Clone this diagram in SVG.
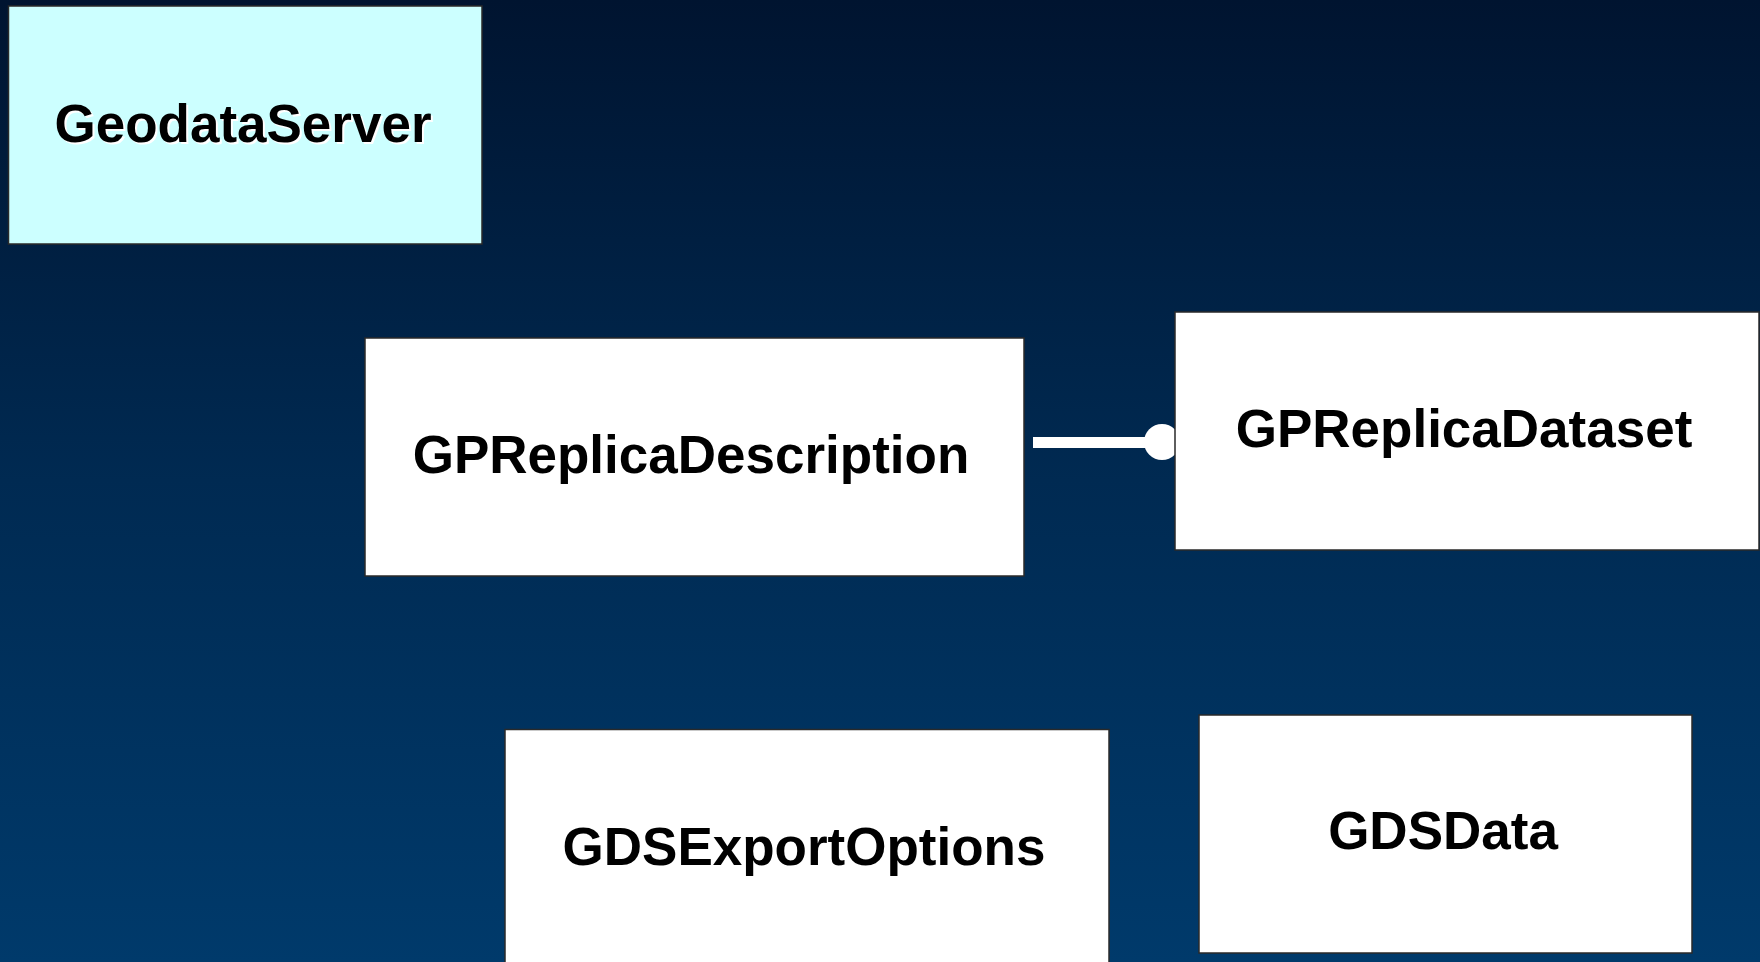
<svg xmlns="http://www.w3.org/2000/svg" width="1760" height="962" viewBox="0 0 1760 962">
  <defs>
    <linearGradient id="bg" x1="0" y1="0" x2="0" y2="1">
      <stop offset="0" stop-color="#001430"/>
      <stop offset="0.5" stop-color="#002a52"/>
      <stop offset="1" stop-color="#003a6b"/>
    </linearGradient>
  </defs>
  <style>
    .box { fill: #ffffff; stroke: #2a2a2a; stroke-width: 1.5; }
    .server { fill: #ccffff; }
    .label { font-family: "Liberation Sans", Arial, sans-serif; font-weight: bold; font-size: 53px; fill: #000000; text-anchor: middle; }
    .halo { fill: #ffffff; }
    .link { stroke: #ffffff; stroke-width: 11; fill: none; }
    .end { fill: #ffffff; }
  </style>

  <rect width="1760" height="962" fill="url(#bg)"/>

  <!-- connectors -->
  <g id="connectors">
    <line class="link" x1="1033" y1="442.5" x2="1162" y2="442.5"/>
    <circle class="end" cx="1162" cy="442" r="18"/>
  </g>

  <g id="node-geodataserver">
    <rect class="box server" x="8.5" y="6" width="473.5" height="238"/>
    <text class="label halo" x="245" y="144">GeodataServer</text>
    <text class="label" x="243" y="142">GeodataServer</text>
  </g>

  <g id="node-gpreplicadescription">
    <rect class="box" x="365" y="338" width="659" height="238"/>
    <text class="label" x="691" y="473">GPReplicaDescription</text>
  </g>

  <g id="node-gpreplicadataset">
    <rect class="box" x="1175" y="312" width="584" height="238"/>
    <text class="label" x="1464" y="447">GPReplicaDataset</text>
  </g>

  <g id="node-gdsexportoptions">
    <rect class="box" x="505" y="729.5" width="604" height="240"/>
    <text class="label" x="804" y="865">GDSExportOptions</text>
  </g>

  <g id="node-gdsdata">
    <rect class="box" x="1199" y="715" width="493" height="238"/>
    <text class="label" x="1443" y="849">GDSData</text>
  </g>
</svg>
